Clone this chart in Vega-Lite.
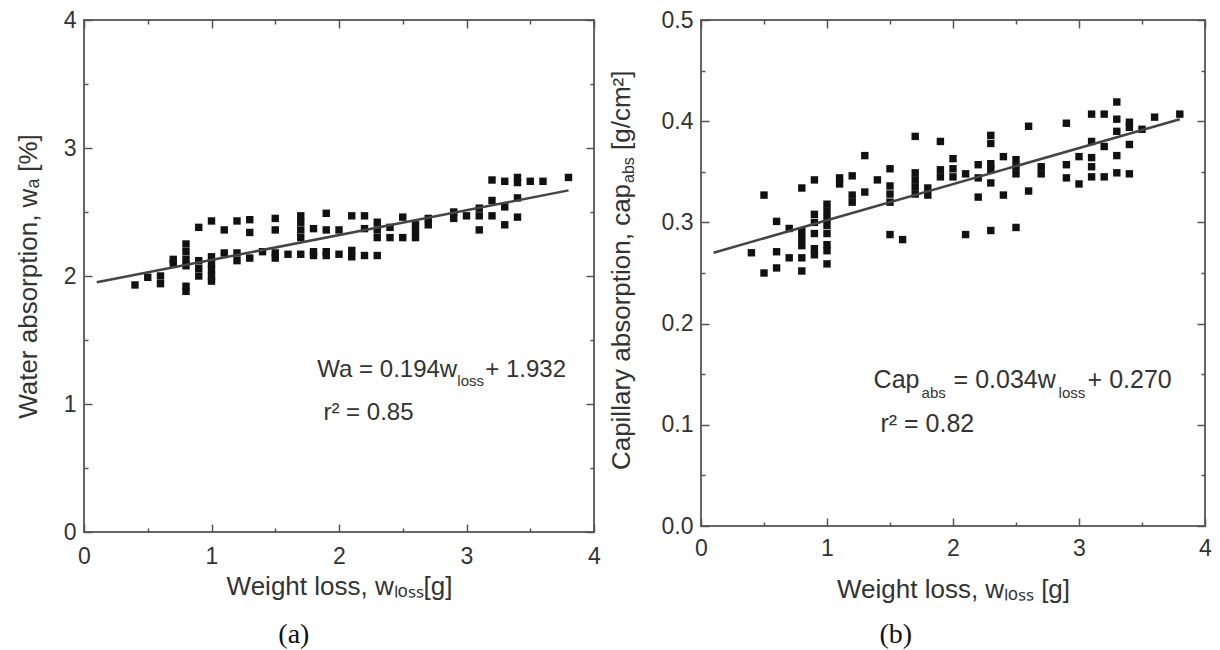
{
  "$schema": "https://vega.github.io/schema/vega-lite/v6.json",
  "background": "white",
  "padding": {"left": 14, "top": 8, "right": 5, "bottom": 0},
  "spacing": 5,
  "config": {
    "view": {"stroke": "#666666", "strokeWidth": 2},
    "axis": {
      "grid": false, "domain": false,
      "labelFont": "Liberation Sans", "titleFont": "Liberation Sans",
      "labelColor": "#333333", "titleColor": "#333333", "titleFontWeight": "normal",
      "tickColor": "#555555", "tickWidth": 1.5,
      "labelFontSize": 23, "titleFontSize": 26,
      "labelFlush": false, "labelOverlap": false, "labelBound": false
    },
    "text": {"font": "Liberation Sans", "color": "#333333"}
  },
  "hconcat": [
    {
      "width": 510,
      "height": 512,
      "layer": [
        {
          "data": {"values": [
            {"w":0.4,"wa":1.93},{"w":0.5,"wa":1.99},{"w":0.6,"wa":2.0},{"w":0.6,"wa":1.94},{"w":0.7,"wa":2.10},{"w":0.7,"wa":2.13},
            {"w":0.8,"wa":2.25},{"w":0.8,"wa":2.19},{"w":0.8,"wa":2.13},{"w":0.8,"wa":2.08},{"w":0.8,"wa":1.92},{"w":0.8,"wa":1.88},
            {"w":0.9,"wa":2.38},{"w":0.9,"wa":2.12},{"w":0.9,"wa":2.06},{"w":0.9,"wa":2.0},
            {"w":1.0,"wa":2.43},{"w":1.0,"wa":2.15},{"w":1.0,"wa":2.1},{"w":1.0,"wa":2.05},{"w":1.0,"wa":2.0},{"w":1.0,"wa":1.96},
            {"w":1.1,"wa":2.36},{"w":1.1,"wa":2.18},{"w":1.2,"wa":2.43},{"w":1.2,"wa":2.18},{"w":1.2,"wa":2.12},
            {"w":1.3,"wa":2.44},{"w":1.3,"wa":2.34},{"w":1.3,"wa":2.14},{"w":1.4,"wa":2.19},
            {"w":1.5,"wa":2.45},{"w":1.5,"wa":2.36},{"w":1.5,"wa":2.18},{"w":1.5,"wa":2.14},{"w":1.6,"wa":2.17},
            {"w":1.7,"wa":2.47},{"w":1.7,"wa":2.42},{"w":1.7,"wa":2.36},{"w":1.7,"wa":2.3},{"w":1.7,"wa":2.17},
            {"w":1.8,"wa":2.37},{"w":1.8,"wa":2.19},{"w":1.8,"wa":2.16},
            {"w":1.9,"wa":2.49},{"w":1.9,"wa":2.36},{"w":1.9,"wa":2.19},{"w":1.9,"wa":2.16},
            {"w":2.0,"wa":2.36},{"w":2.0,"wa":2.17},{"w":2.1,"wa":2.47},{"w":2.1,"wa":2.2},{"w":2.1,"wa":2.15},
            {"w":2.2,"wa":2.47},{"w":2.2,"wa":2.37},{"w":2.2,"wa":2.16},
            {"w":2.3,"wa":2.42},{"w":2.3,"wa":2.36},{"w":2.3,"wa":2.3},{"w":2.3,"wa":2.16},
            {"w":2.4,"wa":2.38},{"w":2.4,"wa":2.3},{"w":2.5,"wa":2.46},{"w":2.5,"wa":2.3},
            {"w":2.6,"wa":2.4},{"w":2.6,"wa":2.35},{"w":2.6,"wa":2.3},{"w":2.7,"wa":2.45},{"w":2.7,"wa":2.4},
            {"w":2.9,"wa":2.5},{"w":2.9,"wa":2.45},{"w":3.0,"wa":2.47},
            {"w":3.1,"wa":2.53},{"w":3.1,"wa":2.47},{"w":3.1,"wa":2.36},
            {"w":3.2,"wa":2.75},{"w":3.2,"wa":2.59},{"w":3.2,"wa":2.47},
            {"w":3.3,"wa":2.74},{"w":3.3,"wa":2.54},{"w":3.3,"wa":2.4},
            {"w":3.4,"wa":2.77},{"w":3.4,"wa":2.73},{"w":3.4,"wa":2.61},{"w":3.4,"wa":2.46},
            {"w":3.5,"wa":2.74},{"w":3.6,"wa":2.74},{"w":3.8,"wa":2.77}
          ]},
          "mark": {"type": "square", "size": 55, "color": "#111111", "opacity": 1},
          "encoding": {
            "x": {"field": "w", "type": "quantitative", "scale": {"domain": [0, 4], "nice": false, "zero": false},
              "axis": {"orient": "bottom", "values": [0,0.5,1,1.5,2,2.5,3,3.5,4],
                "labelExpr": "datum.value % 1 === 0 ? format(datum.value, 'd') : ''",
                "tickSize": {"condition": {"test": "datum.value % 1 === 0", "value": -8}, "value": -4},
                "labelPadding": 21, "title": "Weight loss, wₗₒₛₛ[g]", "titlePadding": 1}},
            "y": {"field": "wa", "type": "quantitative", "scale": {"domain": [0, 4], "nice": false, "zero": false},
              "axis": {"orient": "left", "values": [0,0.5,1,1.5,2,2.5,3,3.5,4],
                "labelExpr": "datum.value % 1 === 0 ? format(datum.value, 'd') : ''",
                "tickSize": {"condition": {"test": "datum.value % 1 === 0", "value": -8}, "value": -4},
                "labelPadding": 16, "title": "Water absorption, wₐ [%]", "titlePadding": 22}}
          }
        },
        {
          "data": {"values": [{"w": 0.1, "wa": 1.951}, {"w": 3.8, "wa": 2.669}]},
          "mark": {"type": "line", "color": "#444444", "strokeWidth": 2.5},
          "encoding": {
            "x": {"field": "w", "type": "quantitative",
              "axis": {"orient": "top", "values": [0,0.5,1,1.5,2,2.5,3,3.5,4], "labels": false, "title": null,
                "tickSize": {"condition": {"test": "datum.value % 1 === 0", "value": -8}, "value": -4}}},
            "y": {"field": "wa", "type": "quantitative",
              "axis": {"orient": "right", "values": [0,0.5,1,1.5,2,2.5,3,3.5,4], "labels": false, "title": null,
                "tickSize": {"condition": {"test": "datum.value % 1 === 0", "value": -8}, "value": -4}}}
          }
        },
        {
          "data": {"values": [{}]},
          "mark": {"type": "text", "text": "Wa = 0.194w", "align": "left", "baseline": "alphabetic", "fontSize": 24},
          "encoding": {"x": {"datum": 1.83, "type": "quantitative", "axis": null}, "y": {"datum": 1.208, "type": "quantitative", "axis": null}}
        },
        {
          "data": {"values": [{}]},
          "mark": {"type": "text", "text": "loss", "align": "left", "baseline": "alphabetic", "fontSize": 15, "dx": 140, "dy": 9},
          "encoding": {"x": {"datum": 1.83, "type": "quantitative", "axis": null}, "y": {"datum": 1.208, "type": "quantitative", "axis": null}}
        },
        {
          "data": {"values": [{}]},
          "mark": {"type": "text", "text": "+ 1.932", "align": "left", "baseline": "alphabetic", "fontSize": 24, "dx": 168},
          "encoding": {"x": {"datum": 1.83, "type": "quantitative", "axis": null}, "y": {"datum": 1.208, "type": "quantitative", "axis": null}}
        },
        {
          "data": {"values": [{}]},
          "mark": {"type": "text", "text": "r² = 0.85", "align": "left", "baseline": "alphabetic", "fontSize": 24},
          "encoding": {"x": {"datum": 1.878, "type": "quantitative", "axis": null}, "y": {"datum": 0.877, "type": "quantitative", "axis": null}}
        },
        {
          "data": {"values": [{}]},
          "mark": {"type": "text", "text": "(a)", "align": "center", "baseline": "alphabetic", "fontSize": 28, "font": "Liberation Serif", "color": "#111111"},
          "encoding": {"x": {"datum": 1.646, "type": "quantitative", "axis": null}, "y": {"datum": -0.865, "type": "quantitative", "axis": null}}
        }
      ],
      "resolve": {"axis": {"x": "independent", "y": "independent"}}
    },
    {
      "width": 504,
      "height": 506,
      "layer": [
        {
          "data": {"values": [
            {"w":0.4,"cap":0.270},{"w":0.5,"cap":0.327},{"w":0.5,"cap":0.250},{"w":0.6,"cap":0.301},{"w":0.6,"cap":0.271},{"w":0.6,"cap":0.255},
            {"w":0.7,"cap":0.294},{"w":0.7,"cap":0.265},
            {"w":0.8,"cap":0.334},{"w":0.8,"cap":0.291},{"w":0.8,"cap":0.284},{"w":0.8,"cap":0.277},{"w":0.8,"cap":0.265},{"w":0.8,"cap":0.252},
            {"w":0.9,"cap":0.342},{"w":0.9,"cap":0.308},{"w":0.9,"cap":0.300},{"w":0.9,"cap":0.289},{"w":0.9,"cap":0.274},{"w":0.9,"cap":0.268},
            {"w":1.0,"cap":0.318},{"w":1.0,"cap":0.311},{"w":1.0,"cap":0.304},{"w":1.0,"cap":0.297},{"w":1.0,"cap":0.289},{"w":1.0,"cap":0.278},{"w":1.0,"cap":0.272},{"w":1.0,"cap":0.259},
            {"w":1.1,"cap":0.344},{"w":1.1,"cap":0.338},{"w":1.2,"cap":0.346},{"w":1.2,"cap":0.327},{"w":1.2,"cap":0.320},
            {"w":1.3,"cap":0.366},{"w":1.3,"cap":0.330},{"w":1.4,"cap":0.342},
            {"w":1.5,"cap":0.353},{"w":1.5,"cap":0.336},{"w":1.5,"cap":0.328},{"w":1.5,"cap":0.320},{"w":1.5,"cap":0.288},{"w":1.6,"cap":0.283},
            {"w":1.7,"cap":0.385},{"w":1.7,"cap":0.349},{"w":1.7,"cap":0.342},{"w":1.7,"cap":0.335},{"w":1.7,"cap":0.328},
            {"w":1.8,"cap":0.334},{"w":1.8,"cap":0.327},{"w":1.9,"cap":0.380},{"w":1.9,"cap":0.352},{"w":1.9,"cap":0.345},
            {"w":2.0,"cap":0.363},{"w":2.0,"cap":0.353},{"w":2.0,"cap":0.345},{"w":2.1,"cap":0.348},{"w":2.1,"cap":0.288},
            {"w":2.2,"cap":0.357},{"w":2.2,"cap":0.344},{"w":2.2,"cap":0.325},
            {"w":2.3,"cap":0.386},{"w":2.3,"cap":0.378},{"w":2.3,"cap":0.358},{"w":2.3,"cap":0.352},{"w":2.3,"cap":0.339},{"w":2.3,"cap":0.292},
            {"w":2.4,"cap":0.365},{"w":2.4,"cap":0.327},{"w":2.5,"cap":0.362},{"w":2.5,"cap":0.355},{"w":2.5,"cap":0.348},{"w":2.5,"cap":0.295},
            {"w":2.6,"cap":0.395},{"w":2.6,"cap":0.331},{"w":2.7,"cap":0.355},{"w":2.7,"cap":0.348},
            {"w":2.9,"cap":0.398},{"w":2.9,"cap":0.357},{"w":2.9,"cap":0.344},{"w":3.0,"cap":0.365},{"w":3.0,"cap":0.338},
            {"w":3.1,"cap":0.407},{"w":3.1,"cap":0.380},{"w":3.1,"cap":0.364},{"w":3.1,"cap":0.355},{"w":3.1,"cap":0.345},
            {"w":3.2,"cap":0.407},{"w":3.2,"cap":0.375},{"w":3.2,"cap":0.345},
            {"w":3.3,"cap":0.419},{"w":3.3,"cap":0.402},{"w":3.3,"cap":0.390},{"w":3.3,"cap":0.366},{"w":3.3,"cap":0.349},
            {"w":3.4,"cap":0.399},{"w":3.4,"cap":0.394},{"w":3.4,"cap":0.377},{"w":3.4,"cap":0.348},
            {"w":3.5,"cap":0.392},{"w":3.6,"cap":0.404},{"w":3.8,"cap":0.407}
          ]},
          "mark": {"type": "square", "size": 55, "color": "#111111", "opacity": 1},
          "encoding": {
            "x": {"field": "w", "type": "quantitative", "scale": {"domain": [0, 4], "nice": false, "zero": false},
              "axis": {"orient": "bottom", "values": [0,0.5,1,1.5,2,2.5,3,3.5,4],
                "labelExpr": "datum.value % 1 === 0 ? format(datum.value, 'd') : ''",
                "tickSize": {"condition": {"test": "datum.value % 1 === 0", "value": -8}, "value": -4},
                "labelPadding": 19, "title": "Weight loss, wₗₒₛₛ [g]", "titlePadding": 12}},
            "y": {"field": "cap", "type": "quantitative", "scale": {"domain": [0, 0.5], "nice": false, "zero": false},
              "axis": {"orient": "left", "values": [0,0.05,0.1,0.15,0.2,0.25,0.3,0.35,0.4,0.45,0.5],
                "labelExpr": "abs(datum.value * 10 - round(datum.value * 10)) < 0.001 ? format(datum.value, '.1f') : ''",
                "tickSize": {"condition": {"test": "abs(datum.value * 10 - round(datum.value * 10)) < 0.001", "value": -8}, "value": -4},
                "labelPadding": 16, "title": null}}
          }
        },
        {
          "data": {"values": [{"w": 0.1, "cap": 0.270}, {"w": 3.8, "cap": 0.402}]},
          "mark": {"type": "line", "color": "#444444", "strokeWidth": 2.5},
          "encoding": {
            "x": {"field": "w", "type": "quantitative",
              "axis": {"orient": "top", "values": [0,0.5,1,1.5,2,2.5,3,3.5,4], "labels": false, "title": null,
                "tickSize": {"condition": {"test": "datum.value % 1 === 0", "value": -8}, "value": -4}}},
            "y": {"field": "cap", "type": "quantitative",
              "axis": {"orient": "right", "values": [0,0.05,0.1,0.15,0.2,0.25,0.3,0.35,0.4,0.45,0.5], "labels": false, "title": null,
                "tickSize": {"condition": {"test": "abs(datum.value * 10 - round(datum.value * 10)) < 0.001", "value": -8}, "value": -4}}}
          }
        },
        {
          "data": {"values": [{}]},
          "mark": {"type": "text", "text": "Capillary absorption, cap", "align": "right", "baseline": "middle", "angle": 270, "fontSize": 26},
          "encoding": {"x": {"datum": -0.63, "type": "quantitative", "axis": null}, "y": {"datum": 0.338, "type": "quantitative", "axis": null}}
        },
        {
          "data": {"values": [{}]},
          "mark": {"type": "text", "text": "abs", "align": "left", "baseline": "middle", "angle": 270, "fontSize": 16, "dx": 1, "dy": 7},
          "encoding": {"x": {"datum": -0.63, "type": "quantitative", "axis": null}, "y": {"datum": 0.338, "type": "quantitative", "axis": null}}
        },
        {
          "data": {"values": [{}]},
          "mark": {"type": "text", "text": "[g/cm²]", "align": "left", "baseline": "middle", "angle": 270, "fontSize": 26, "dx": 34},
          "encoding": {"x": {"datum": -0.63, "type": "quantitative", "axis": null}, "y": {"datum": 0.338, "type": "quantitative", "axis": null}}
        },
        {
          "data": {"values": [{}]},
          "mark": {"type": "text", "text": "Cap", "align": "left", "baseline": "alphabetic", "fontSize": 25},
          "encoding": {"x": {"datum": 1.37, "type": "quantitative", "axis": null}, "y": {"datum": 0.1362, "type": "quantitative", "axis": null}}
        },
        {
          "data": {"values": [{}]},
          "mark": {"type": "text", "text": "abs", "align": "left", "baseline": "alphabetic", "fontSize": 15, "dx": 48, "dy": 10},
          "encoding": {"x": {"datum": 1.37, "type": "quantitative", "axis": null}, "y": {"datum": 0.1362, "type": "quantitative", "axis": null}}
        },
        {
          "data": {"values": [{}]},
          "mark": {"type": "text", "text": "= 0.034w", "align": "left", "baseline": "alphabetic", "fontSize": 25, "dx": 80},
          "encoding": {"x": {"datum": 1.37, "type": "quantitative", "axis": null}, "y": {"datum": 0.1362, "type": "quantitative", "axis": null}}
        },
        {
          "data": {"values": [{}]},
          "mark": {"type": "text", "text": "loss", "align": "left", "baseline": "alphabetic", "fontSize": 15, "dx": 185, "dy": 10},
          "encoding": {"x": {"datum": 1.37, "type": "quantitative", "axis": null}, "y": {"datum": 0.1362, "type": "quantitative", "axis": null}}
        },
        {
          "data": {"values": [{}]},
          "mark": {"type": "text", "text": "+ 0.270", "align": "left", "baseline": "alphabetic", "fontSize": 25, "dx": 214},
          "encoding": {"x": {"datum": 1.37, "type": "quantitative", "axis": null}, "y": {"datum": 0.1362, "type": "quantitative", "axis": null}}
        },
        {
          "data": {"values": [{}]},
          "mark": {"type": "text", "text": "r² = 0.82", "align": "left", "baseline": "alphabetic", "fontSize": 25},
          "encoding": {"x": {"datum": 1.424, "type": "quantitative", "axis": null}, "y": {"datum": 0.0931, "type": "quantitative", "axis": null}}
        },
        {
          "data": {"values": [{}]},
          "mark": {"type": "text", "text": "(b)", "align": "center", "baseline": "alphabetic", "fontSize": 28, "font": "Liberation Serif", "color": "#111111"},
          "encoding": {"x": {"datum": 1.546, "type": "quantitative", "axis": null}, "y": {"datum": -0.1152, "type": "quantitative", "axis": null}}
        }
      ],
      "resolve": {"axis": {"x": "independent", "y": "independent"}}
    }
  ]
}
